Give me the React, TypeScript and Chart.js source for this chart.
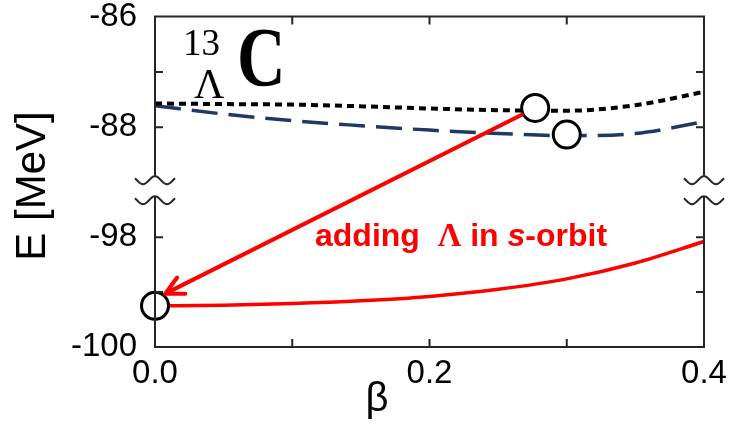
import { useEffect, useRef } from 'react';
import { Chart, registerables } from 'chart.js';

Chart.register(...registerables);

// Deformation parameter beta
const betaGrid = [0, 0.05, 0.1, 0.15, 0.2, 0.25, 0.3, 0.35, 0.4];
// Upper energy curves (MeV)
const dottedEnergy = [-87.57, -87.58, -87.59, -87.62, -87.66, -87.69, -87.7, -87.6, -87.36];
const dashedEnergy = [-87.61, -87.76, -87.88, -87.97, -88.05, -88.11, -88.15, -88.11, -87.9];
// Lambda in s-orbit (MeV)
const sOrbitEnergy = [-99.25, -99.24, -99.21, -99.16, -99.08, -98.95, -98.76, -98.47, -98.08];

// Marked minima (open circles)
const upperMarkBeta = [0.277, 0.3];
const upperMarkEnergy = [-87.65, -88.13];
const lowerMarkBeta = [0];
const lowerMarkEnergy = [-99.25];

// Axis ranges and ticks
const betaRange = [0, 0.4];
const upperRange = [-89.243, -86];
const lowerRange = [-100, -97.255];
const betaTickLabels = [0, 0.2, 0.4];
const betaTickMarks = [0.1, 0.2, 0.3];
const upperTickLabels = [-88, -86];
const upperTickMarks = [-87, -88];
const lowerTickLabels = [-100, -98];
const lowerTickMarks = [-99, -98];

const FRAME = '#262626';
const RED = '#ff0000';

function points(xs: number[], ys: number[]) {
  return xs.map((x, i) => ({ x, y: ys[i] }));
}

const decorations = {
  id: 'decorations',
  afterDatasetsDraw(chart: any) {
    const ctx: CanvasRenderingContext2D = chart.ctx;
    const { left, right, top, bottom } = chart.chartArea;
    const xs = chart.scales.x;
    const yU = chart.scales.yUpper;
    const yL = chart.scales.yLower;
    const amp = 4;
    const breakA = yU.bottom - 20;
    const breakB = yL.top;

    ctx.save();
    // frame with broken vertical axes
    ctx.strokeStyle = FRAME;
    ctx.lineWidth = 2;
    ctx.lineCap = 'butt';
    ctx.beginPath();
    ctx.moveTo(left, breakA);
    ctx.lineTo(left, top);
    ctx.lineTo(right, top);
    ctx.lineTo(right, breakA);
    ctx.moveTo(left, breakB);
    ctx.lineTo(left, bottom);
    ctx.lineTo(right, bottom);
    ctx.lineTo(right, breakB);
    ctx.stroke();

    const wave = (cx: number, crestY: number) => {
      ctx.beginPath();
      const cy = crestY + amp;
      for (let i = 0; i <= 40; i++) {
        const dx = -20 + (40 * i) / 40;
        const py = cy - amp * Math.cos((2 * Math.PI * dx) / 24);
        if (i === 0) ctx.moveTo(cx + dx, py);
        else ctx.lineTo(cx + dx, py);
      }
      ctx.stroke();
    };
    [left, right].forEach((cx) => {
      wave(cx, breakA);
      wave(cx, breakB);
    });

    // inward tick marks
    ctx.beginPath();
    betaTickMarks.forEach((v) => {
      const px = xs.getPixelForValue(v);
      ctx.moveTo(px, bottom);
      ctx.lineTo(px, bottom - 8);
      ctx.moveTo(px, top);
      ctx.lineTo(px, top + 8);
    });
    const yMark = (scale: any, v: number) => {
      const py = scale.getPixelForValue(v);
      ctx.moveTo(left, py);
      ctx.lineTo(left + 8, py);
      ctx.moveTo(right, py);
      ctx.lineTo(right - 8, py);
    };
    upperTickMarks.forEach((v) => yMark(yU, v));
    lowerTickMarks.forEach((v) => yMark(yL, v));
    ctx.stroke();

    // arrow from the upper minimum down to the s-orbit state
    const p0 = { x: xs.getPixelForValue(upperMarkBeta[0]), y: yU.getPixelForValue(upperMarkEnergy[0]) };
    const p1 = { x: xs.getPixelForValue(lowerMarkBeta[0]), y: yL.getPixelForValue(lowerMarkEnergy[0]) - 7 };
    const len = Math.hypot(p1.x - p0.x, p1.y - p0.y);
    const ux = (p1.x - p0.x) / len;
    const uy = (p1.y - p0.y) / len;
    const sx = p0.x + ux * 15;
    const sy = p0.y + uy * 15;
    const tx = p1.x - ux * 11.5;
    const ty = p1.y - uy * 11.5;
    ctx.strokeStyle = RED;
    ctx.lineWidth = 4;
    ctx.lineCap = 'round';
    ctx.lineJoin = 'round';
    ctx.beginPath();
    ctx.moveTo(sx, sy);
    ctx.lineTo(tx, ty);
    const back = Math.atan2(-uy, -ux);
    const wing = 20;
    const spread = (27 * Math.PI) / 180;
    ctx.moveTo(tx + wing * Math.cos(back - spread), ty + wing * Math.sin(back - spread));
    ctx.lineTo(tx, ty);
    ctx.lineTo(tx + wing * Math.cos(back + spread), ty + wing * Math.sin(back + spread));
    ctx.stroke();

    // annotation text
    ctx.fillStyle = RED;
    ctx.textBaseline = 'alphabetic';
    ctx.textAlign = 'left';
    let cx = 315;
    const base = 246;
    const seg = (text: string, font: string) => {
      ctx.font = font;
      ctx.fillText(text, cx, base);
      cx += ctx.measureText(text).width;
    };
    seg('adding  ', 'bold 32px "Liberation Sans"');
    seg('Λ', 'bold 33px "Liberation Serif"');
    seg(' in ', 'bold 32px "Liberation Sans"');
    seg('s', 'italic bold 32px "Liberation Sans"');
    seg('-orbit', 'bold 32px "Liberation Sans"');

    // nucleus label
    ctx.fillStyle = '#000';
    ctx.font = '37px "Liberation Serif"';
    ctx.fillText('13', 183, 55);
    ctx.font = '42px "Liberation Serif"';
    ctx.fillText('Λ', 194, 98);
    ctx.save();
    ctx.translate(237, 86);
    ctx.scale(0.8, 1);
    ctx.font = 'bold 84px "Liberation Serif"';
    ctx.fillText('C', 0, 0);
    ctx.restore();

    // axis titles
    ctx.font = '40px "Liberation Sans"';
    ctx.textAlign = 'center';
    ctx.fillText('β', 377, 411);
    ctx.save();
    ctx.translate(45, 186);
    ctx.rotate(-Math.PI / 2);
    ctx.font = '42px "Liberation Sans"';
    ctx.fillText('E [MeV]', 0, 0);
    ctx.restore();

    ctx.restore();
  },
};

export default function App() {
  const ref = useRef<HTMLCanvasElement>(null);

  useEffect(() => {
    const canvas = ref.current;
    if (!canvas) return;
    const tickFont = { family: '"Liberation Sans"', size: 33 };

    const chart = new Chart(canvas, {
      type: 'line',
      data: {
        datasets: [
          {
            label: 'upper minima',
            type: 'scatter',
            data: points(upperMarkBeta, upperMarkEnergy),
            yAxisID: 'yUpper',
            pointRadius: 13.5,
            pointBackgroundColor: '#ffffff',
            pointBorderColor: '#000000',
            pointBorderWidth: 3,
            showLine: false,
            clip: false,
            order: 0,
          },
          {
            label: 's-orbit minimum',
            type: 'scatter',
            data: points(lowerMarkBeta, lowerMarkEnergy),
            yAxisID: 'yLower',
            pointRadius: 13.5,
            pointBackgroundColor: '#ffffff',
            pointBorderColor: '#000000',
            pointBorderWidth: 3,
            showLine: false,
            clip: false,
            order: 0,
          },
          {
            label: 'dotted',
            data: points(betaGrid, dottedEnergy),
            yAxisID: 'yUpper',
            borderColor: '#000000',
            borderWidth: 4,
            borderDash: [7, 5],
            pointRadius: 0,
            cubicInterpolationMode: 'monotone',
            order: 1,
          },
          {
            label: 'dashed',
            data: points(betaGrid, dashedEnergy),
            yAxisID: 'yUpper',
            borderColor: '#1f3864',
            borderWidth: 3.5,
            borderDash: [26, 11],
            pointRadius: 0,
            cubicInterpolationMode: 'monotone',
            order: 1,
          },
          {
            label: 's-orbit',
            data: points(betaGrid, sOrbitEnergy),
            yAxisID: 'yLower',
            borderColor: RED,
            borderWidth: 3.5,
            pointRadius: 0,
            cubicInterpolationMode: 'monotone',
            order: 1,
          },
        ],
      },
      options: {
        responsive: false,
        maintainAspectRatio: false,
        animation: false,
        layout: { padding: { top: 16, right: 29, left: 0, bottom: 0 } },
        plugins: {
          legend: { display: false },
          tooltip: { enabled: false },
        },
        scales: {
          x: {
            type: 'linear',
            position: 'bottom',
            min: betaRange[0],
            max: betaRange[1],
            grid: { display: false, drawTicks: false },
            border: { display: false },
            afterBuildTicks: (s: any) => {
              s.ticks = betaTickLabels.map((value) => ({ value }));
            },
            afterFit: (s: any) => {
              s.height = 80;
              s.paddingLeft = 0;
              s.paddingRight = 0;
            },
            ticks: {
              font: tickFont,
              color: '#000',
              padding: 7,
              maxRotation: 0,
              autoSkip: false,
              callback: (v: any) => Number(v).toFixed(1),
            },
          },
          yUpper: {
            type: 'linear',
            position: 'left',
            stack: 'energy',
            stackWeight: 180,
            weight: 2,
            min: upperRange[0],
            max: upperRange[1],
            grid: { display: false, drawTicks: false },
            border: { display: false },
            afterBuildTicks: (s: any) => {
              s.ticks = upperTickLabels.map((value) => ({ value }));
            },
            afterFit: (s: any) => {
              s.width = 155;
              s.paddingTop = 0;
              s.paddingBottom = 0;
            },
            ticks: { font: tickFont, color: '#000', padding: 18, autoSkip: false, callback: (v: any) => String(v) },
          },
          yLower: {
            type: 'linear',
            position: 'left',
            stack: 'energy',
            stackWeight: 151,
            weight: 1,
            min: lowerRange[0],
            max: lowerRange[1],
            grid: { display: false, drawTicks: false },
            border: { display: false },
            afterBuildTicks: (s: any) => {
              s.ticks = lowerTickLabels.map((value) => ({ value }));
            },
            afterFit: (s: any) => {
              s.width = 155;
              s.paddingTop = 0;
              s.paddingBottom = 0;
            },
            ticks: { font: tickFont, color: '#000', padding: 18, autoSkip: false, callback: (v: any) => String(v) },
          },
        },
      },
      plugins: [decorations],
    } as any);

    return () => chart.destroy();
  }, []);

  return (
    <div style={{ position: 'absolute', left: 0, top: 0, width: 733, height: 427, background: '#ffffff' }}>
      <canvas ref={ref} width={733} height={427} style={{ display: 'block' }} />
    </div>
  );
}
